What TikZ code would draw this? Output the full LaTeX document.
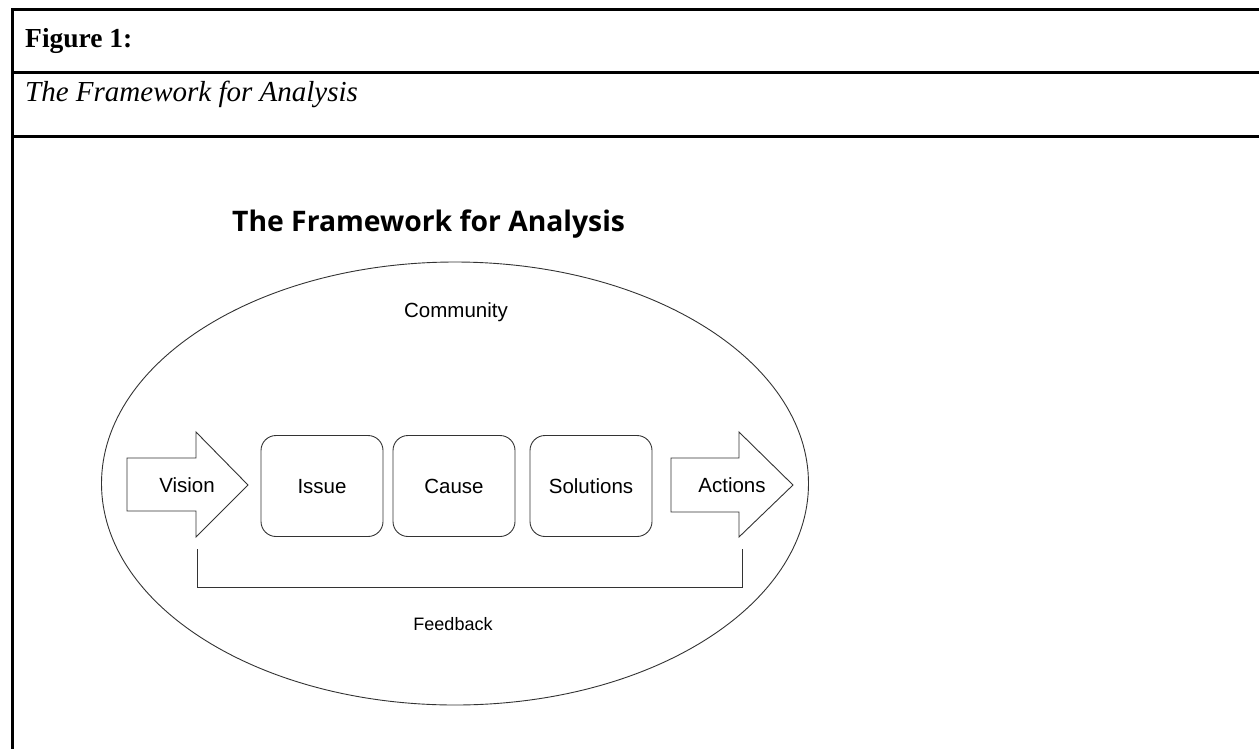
\documentclass[tikz,border=0pt]{standalone}
\usepackage{fontspec}
\setmainfont{Liberation Serif}
\newfontfamily\arialfont{Liberation Sans}
\newfontfamily\titlefont{Open Sans}
\usetikzlibrary{shapes.geometric}

\tikzset{
  rule/.style={line width=3pt, line cap=rect},
  shapeline/.style={draw=black!80, line width=0.9pt},
  stepbox/.style={shapeline, rounded corners=15pt, minimum width=122pt,
    minimum height=101pt, text depth=0pt, font=\arialfont\fontsize{20.5}{24}\selectfont},
  steparrow/.style={shapeline, line join=miter},
  steptext/.style={font=\arialfont\fontsize{20.5}{24}\selectfont, anchor=base}
}

\begin{document}
\begin{tikzpicture}[x=1pt,y=-1pt]
\useasboundingbox (0,0) rectangle (1259,748);

% table frame
\draw[rule] (12.5,760) -- (12.5,9.5) -- (1270,9.5);
\draw[rule] (12.5,72.5) -- (1270,72.5);
\draw[rule] (12.5,136) -- (1270,136);
\node[anchor=base west, inner sep=0pt, font=\bfseries\fontsize{27.5}{32}\selectfont] (fignum) at (25,47) {Figure 1:};
\node[anchor=base west, inner sep=0pt, font=\itshape\fontsize{29}{34}\selectfont] (figtitle) at (25,101) {The Framework for Analysis};

% diagram
\node[anchor=base west, inner sep=0pt, font=\titlefont\bfseries\fontsize{28.3}{34}\selectfont] (title) at (232,231) {The Framework for Analysis};
\node[shapeline, ellipse, inner sep=0pt, minimum width=707pt, minimum height=443pt] (community) at (455,483.5) {};
\node[steptext] (communitytext) at (456,317) {Community};

\draw[steparrow] (127,458) -- (196,458) -- (196,432) -- (248,485) -- (196,537) -- (196,511) -- (127,511) -- cycle;
\node[steptext] (vision) at (187,492) {Vision};

\node[stepbox] (issue) at (322,486) {Issue};
\node[stepbox] (cause) at (454,486) {Cause};
\node[stepbox] (solutions) at (591,486) {Solutions};

\draw[steparrow] (671,458) -- (739,458) -- (739,432) -- (793,485) -- (739,537) -- (739,512) -- (671,512) -- cycle;
\node[steptext] (actions) at (732,492) {Actions};

% feedback loop
\coordinate (fbleft) at (197,549);
\coordinate (fbright) at (742,549);
\draw[shapeline] (fbleft) -- ++(0,38) -| (fbright);
\node[steptext, font=\arialfont\fontsize{18}{22}\selectfont] (feedback) at (453,630) {Feedback};
\end{tikzpicture}
\end{document}
